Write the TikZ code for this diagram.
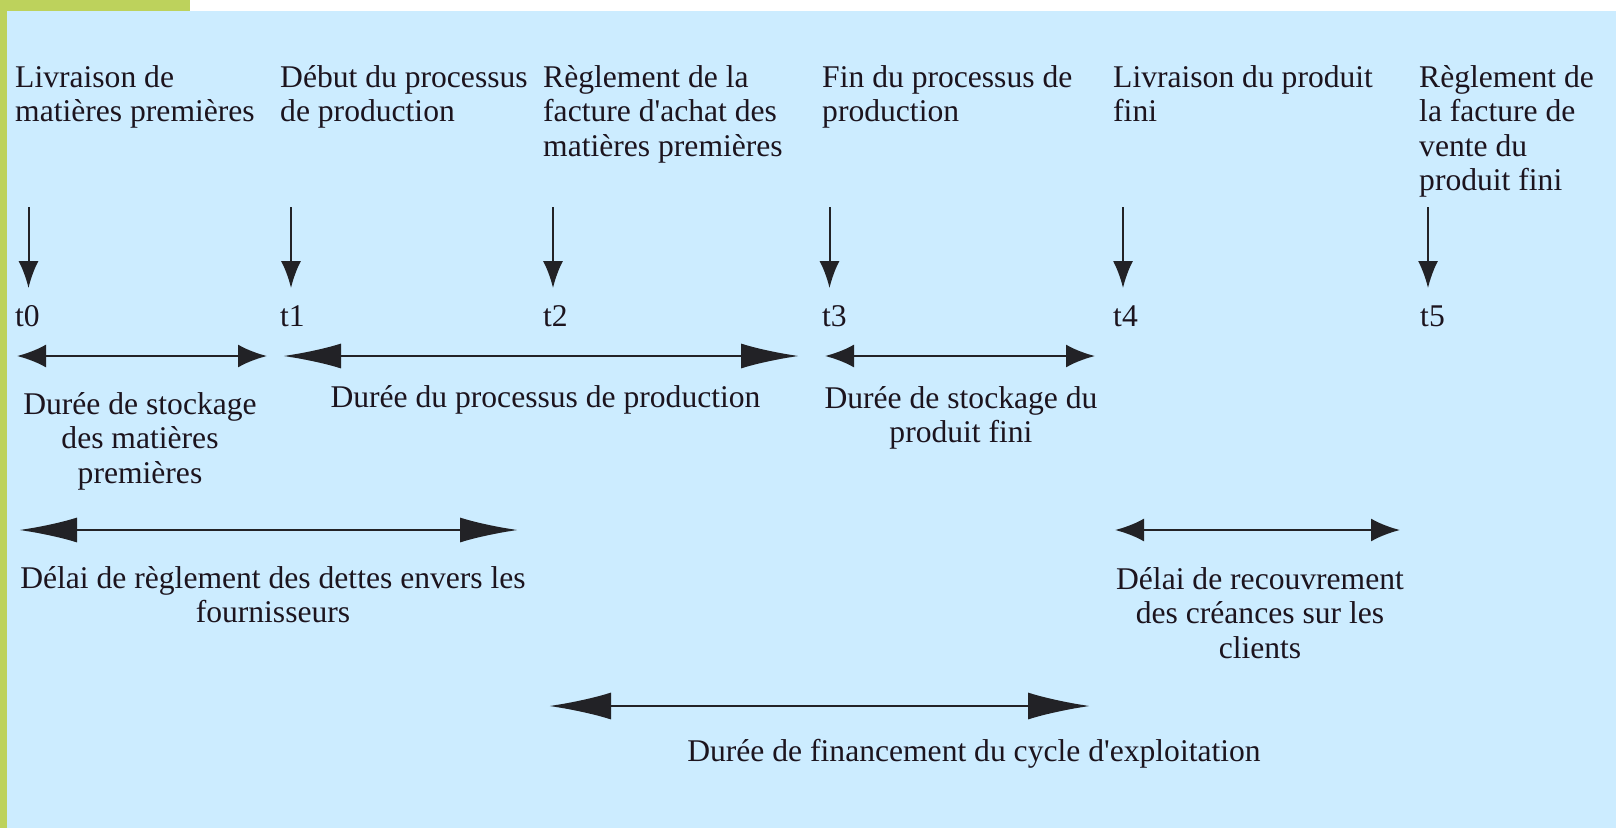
\documentclass[tikz,border=0pt]{standalone}
\usepackage{fontspec}
\newfontfamily\txtfont{Liberation Serif}
\usetikzlibrary{arrows.meta}
\definecolor{bgblue}{RGB}{204,236,255}
\definecolor{bargreen}{RGB}{189,210,92}
\definecolor{ink}{RGB}{28,20,30}
\definecolor{lineink}{RGB}{34,34,38}
\begin{document}
\begin{tikzpicture}[x=1pt,y=-1pt,
  lbl/.style={font=\txtfont\fontsize{31.6}{34.5}\selectfont, inner sep=0pt, text=ink},
  toplbl/.style={lbl, anchor=base west, align=left},
  midlbl/.style={lbl, anchor=base, align=center},
  vline/.style={draw=lineink, line width=2pt, -{Latex[length=27pt,width=20pt]}},
  longarrow/.style={draw=lineink, line width=2.8pt, {Latex[length=58pt,width=25pt]}-{Latex[length=58pt,width=25pt]}},
  shortarrow/.style={draw=lineink, line width=2.8pt, {Latex[length=29pt,width=23pt]}-{Latex[length=29pt,width=23pt]}},
  finarrow/.style={draw=lineink, line width=2.8pt, {Latex[length=62pt,width=27pt]}-{Latex[length=62pt,width=27pt]}}
]
\useasboundingbox (0,0) rectangle (1616,828);
\fill[white] (0,0) rectangle (1616,828);
\fill[bargreen] (0,0) rectangle (190,11);
\fill[bargreen] (0,0) rectangle (7.3,828);
\fill[bgblue] (7.3,11) rectangle (1616,828);

% event labels (base anchor = baseline of the last line)
\node[toplbl] (e0) at (15,121.5) {Livraison de\\matières premières};
\node[toplbl] (e1) at (280,121.5) {Début du processus\\de production};
\node[toplbl] (e2) at (543,156) {Règlement de la\\facture d'achat des\\matières premières};
\node[toplbl] (e3) at (822,121.5) {Fin du processus de\\production};
\node[toplbl] (e4) at (1113,121.5) {Livraison du produit\\fini};
\node[toplbl] (e5) at (1419,190.5) {Règlement de\\la facture de\\vente du\\produit fini};

% time labels
\node[toplbl] (t0) at (15,326) {t0};
\node[toplbl] (t1) at (280,326) {t1};
\node[toplbl] (t2) at (543,326) {t2};
\node[toplbl] (t3) at (822,326) {t3};
\node[toplbl] (t4) at (1113,326) {t4};
\node[toplbl] (t5) at (1420,326) {t5};

% vertical arrows
\foreach \i/\x in {0/28.5,1/291,2/553,3/829.5,4/1123,5/1428}{
  \coordinate (vt\i) at (\x,207);
  \coordinate (vb\i) at (\x,288);
  \draw[vline] (vt\i) -- (vb\i);
}

% duration arrows
\coordinate (a1) at (17,356);   \coordinate (a2) at (267,356);
\coordinate (b1) at (283,356);  \coordinate (b2) at (799,356);
\coordinate (c1) at (825,356);  \coordinate (c2) at (1095,356);
\coordinate (d1) at (19,530);   \coordinate (d2) at (518,530);
\coordinate (f1) at (1115,530); \coordinate (f2) at (1400,530);
\coordinate (g1) at (549,706);  \coordinate (g2) at (1090,706);
\draw[shortarrow] (a1) -- (a2);
\draw[longarrow] (b1) -- (b2);
\draw[shortarrow] (c1) -- (c2);
\draw[longarrow] (d1) -- (d2);
\draw[shortarrow] (f1) -- (f2);
\draw[finarrow] (g1) -- (g2);

% duration labels
\node[midlbl] (la) at (140,483) {Durée de stockage\\des matières\\premières};
\node[midlbl] (lb) at (545.5,407) {Durée du processus de production};
\node[midlbl] (lc) at (961,442.5) {Durée de stockage du\\produit fini};
\node[midlbl] (ld) at (273,622.5) {Délai de règlement des dettes envers les\\fournisseurs};
\node[midlbl] (lf) at (1260,658) {Délai de recouvrement\\des créances sur les\\clients};
\node[midlbl] (lg) at (974,761) {Durée de financement du cycle d'exploitation};
\end{tikzpicture}
\end{document}
